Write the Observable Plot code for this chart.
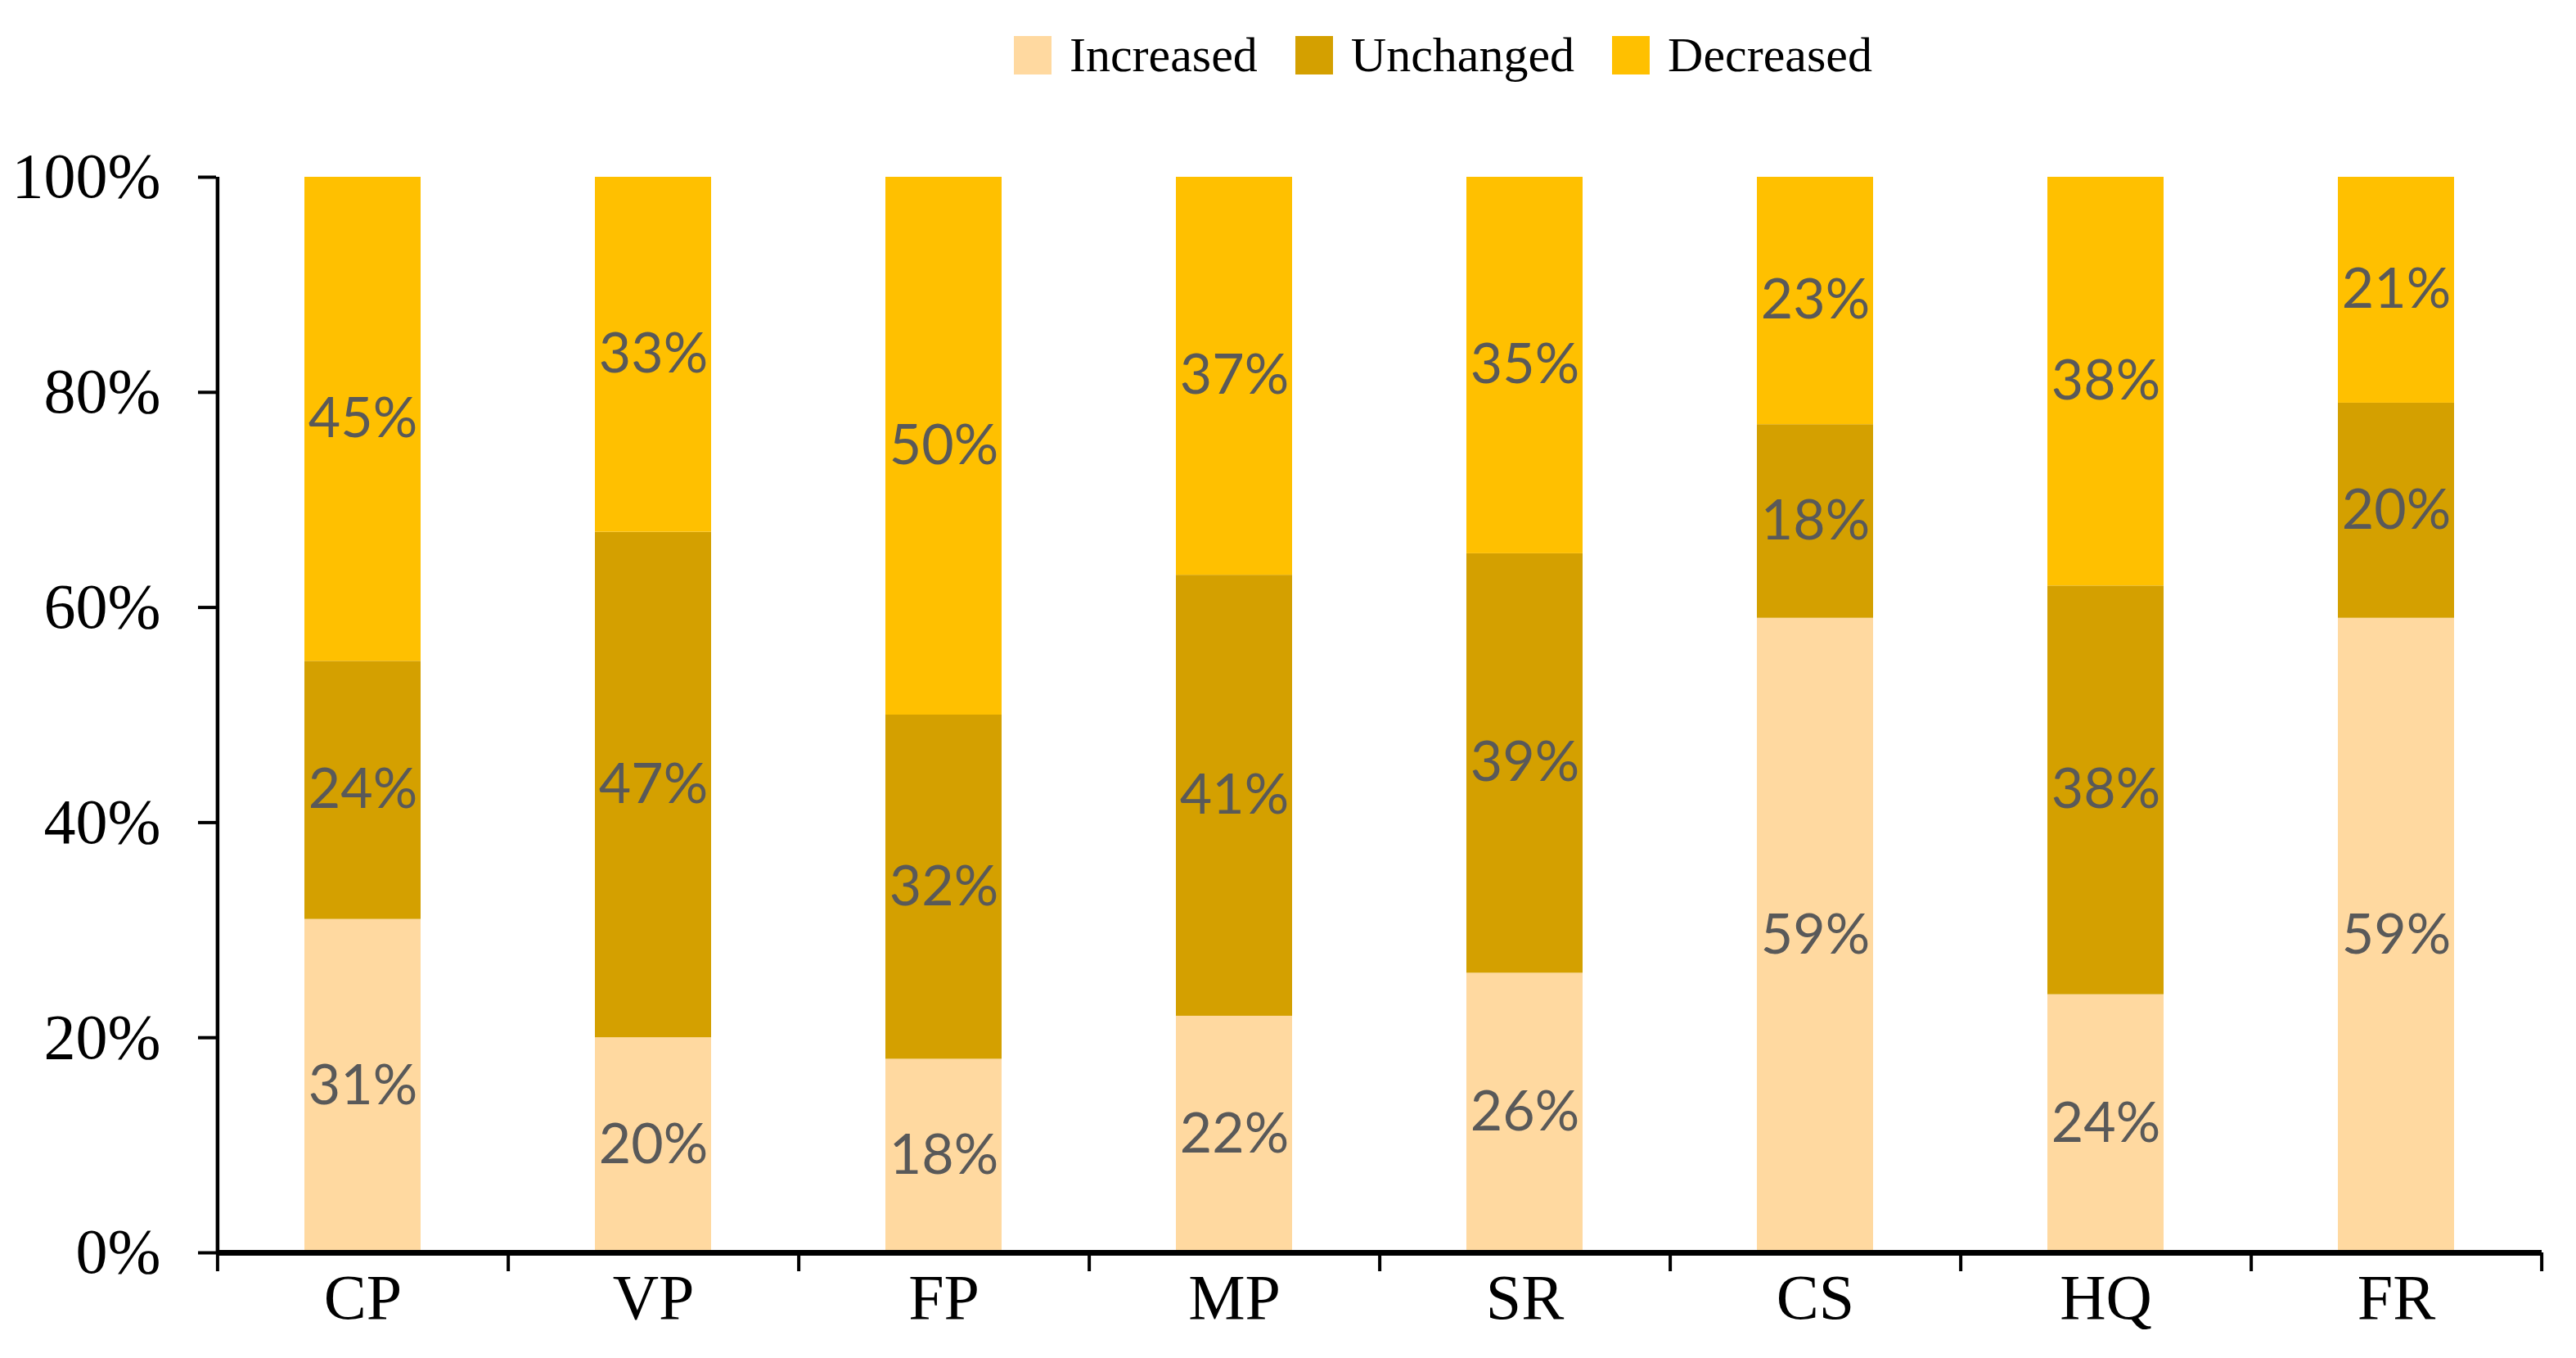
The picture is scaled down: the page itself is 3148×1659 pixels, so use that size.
<!DOCTYPE html>
<html>
<head>
<meta charset="utf-8">
<script src="https://cdn.jsdelivr.net/npm/d3@7"></script>
<script src="https://cdn.jsdelivr.net/npm/@observablehq/plot@0.6"></script>
<style>
  html, body { margin: 0; padding: 0; background: #fff; }
  #legend { height: 135px; display: flex; align-items: flex-start; padding-left: 1239px; box-sizing: border-box; padding-top: 44px; font-family: "Liberation Serif", serif; font-size: 60px; color: #000; }
  .item { display: flex; align-items: center; height: 47px; margin-right: 46px; }
  .sw { width: 46px; height: 47px; margin-right: 22px; }
  .lab { line-height: 47px; }
</style>
</head>
<body>
<div id="legend"></div>
<div id="chart"></div>
<script>
const categories = ["CP", "VP", "FP", "MP", "SR", "CS", "HQ", "FR"];
const series = ["Increased", "Unchanged", "Decreased"];
const colors = ["#FFD9A0", "#D4A000", "#FFC000"];
const increased = [31, 20, 18, 22, 26, 59, 24, 59];
const unchanged = [24, 47, 32, 41, 39, 18, 38, 20];
const decreased = [45, 33, 50, 37, 35, 23, 38, 21];
const yTicks = [0, 0.2, 0.4, 0.6, 0.8, 1.0];

const valuesBySeries = [increased, unchanged, decreased];
const data = [];
categories.forEach((c, i) => {
  series.forEach((s, j) => {
    data.push({category: c, series: s, value: valuesBySeries[j][i] / 100});
  });
});

// Legend (HTML, above the SVG)
const legend = document.getElementById("legend");
series.forEach((s, j) => {
  const item = document.createElement("div");
  item.className = "item";
  const sw = document.createElement("div");
  sw.className = "sw";
  sw.style.background = colors[j];
  const lab = document.createElement("span");
  lab.className = "lab";
  lab.textContent = s;
  item.appendChild(sw);
  item.appendChild(lab);
  legend.appendChild(item);
});

const W = 3148, H = 1524;
const ML = 264, MR = 42, MT = 81, MB = 129;
const step = (W - ML - MR) / categories.length;

const chart = Plot.plot({
  width: W,
  height: H,
  marginLeft: ML,
  marginRight: MR,
  marginTop: MT,
  marginBottom: MB,
  style: {fontFamily: "Liberation Serif, serif", fontSize: "78px", color: "#000", background: "#fff", overflow: "visible"},
  x: {type: "band", domain: categories, paddingInner: 0.6, paddingOuter: 0.3, label: null},
  y: {domain: [0, 1], label: null},
  color: {domain: series, range: colors},
  marks: [
    Plot.barY(data, Plot.stackY({x: "category", y: "value", z: "series", fill: "series", order: null})),
    Plot.text(data, Plot.stackY({
      x: "category", y: "value", z: "series", order: null,
      text: d => d3.format(".0%")(d.value),
      fill: "#595959",
      fontFamily: "Lato, 'Open Sans', sans-serif",
      fontSize: 68
    })),
    Plot.axisY({ticks: yTicks, tickFormat: d3.format(".0%"), tickSize: 22, tickPadding: 46, strokeWidth: 4, label: null}),
    Plot.ruleX([categories[0]], {dx: -step / 2, y1: 0, y2: 1, strokeWidth: 4.5}),
    Plot.ruleY([0], {strokeWidth: 7}),
    Plot.axisX({tickSize: 23, tickFormat: () => "", dx: step / 2, strokeWidth: 4, label: null}),
    Plot.axisX({ticks: [categories[0]], tickSize: 23, tickFormat: () => "", dx: -step / 2, strokeWidth: 4, label: null}),
    Plot.axisX({tickSize: 0, tickPadding: 25, label: null})
  ]
});
document.getElementById("chart").appendChild(chart);
</script>
</body>
</html>
